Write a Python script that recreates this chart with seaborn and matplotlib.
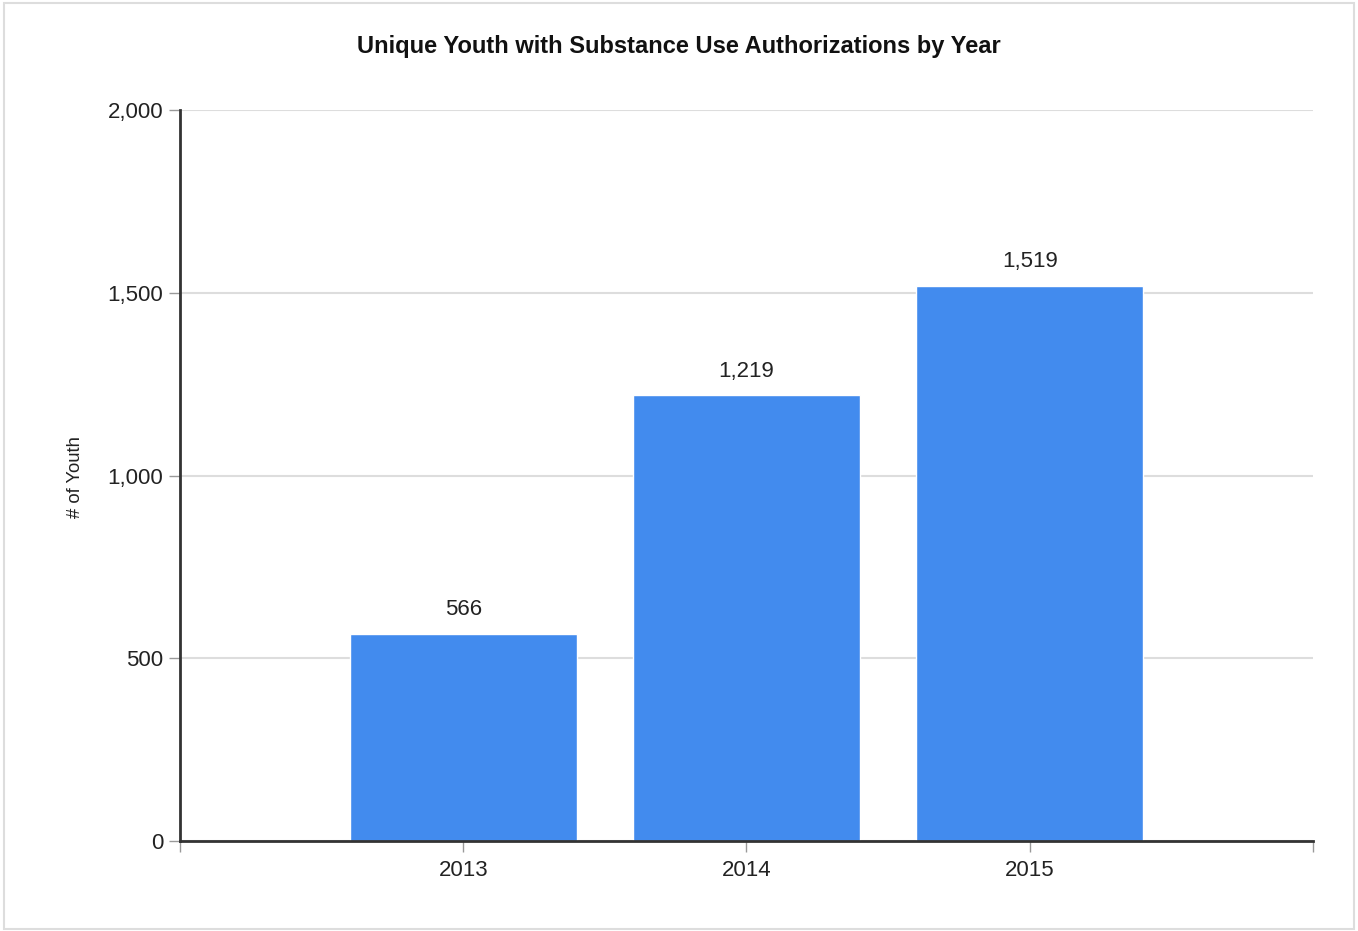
import matplotlib
matplotlib.use("Agg")
import matplotlib.pyplot as plt
import matplotlib.ticker as mticker
import pandas as pd
import seaborn as sns
from matplotlib.patches import Rectangle

years = ["2013", "2014", "2015"]
youth_counts = [566, 1219, 1519]
y_ticks = [0, 500, 1000, 1500, 2000]

sns.set_theme(style="white")
plt.rcParams["font.family"] = ["Liberation Sans", "DejaVu Sans"]

df = pd.DataFrame({"year": years, "count": youth_counts})

fig = plt.figure(figsize=(13.58, 9.31), dpi=100)
ax = fig.add_axes([0.1325, 0.0967, 0.8344, 0.7851])

sns.barplot(data=df, x="year", y="count", color="#428bee", saturation=1,
            width=0.8, ax=ax, zorder=3)

# value labels
for patch, val in zip(ax.patches, youth_counts):
    ax.annotate(f"{val:,}", (patch.get_x() + patch.get_width() / 2, val),
                xytext=(0, 10), textcoords="offset points",
                ha="center", va="bottom", fontsize=16, color="#222222")

ax.set_xlim(-1, 3)
ax.set_ylim(0, 2000)
ax.set_xticks([-1, 0, 1, 2, 3])
ax.set_xticklabels([""] + years + [""])
ax.set_yticks(y_ticks)
ax.yaxis.set_major_formatter(mticker.FuncFormatter(lambda v, p: f"{int(v):,}"))
ax.tick_params(axis="both", labelsize=16, colors="#999999", length=8, width=1,
               direction="out", labelcolor="#222222", bottom=True, left=True)
ax.tick_params(axis="x", pad=6)
ax.tick_params(axis="y", pad=4)

ax.grid(axis="y", color="#dddddd", linewidth=1.5, zorder=0)
ax.set_axisbelow(True)
for side in ["top", "right"]:
    ax.spines[side].set_visible(False)
for side in ["left", "bottom"]:
    ax.spines[side].set_color("#333333")
    ax.spines[side].set_linewidth(2)
    ax.spines[side].set_zorder(4)

ax.set_xlabel("")
ax.set_ylabel("")
fig.text(75 / 1358, 0.4875, "# of Youth", rotation=90, fontsize=13.3,
         color="#222222", ha="center", va="center")
fig.suptitle("Unique Youth with Substance Use Authorizations by Year",
             x=0.5, y=1 - 47 / 931, va="center",
             fontsize=17, fontweight="bold", color="#111111")

# light frame round the chart
fig.patches.append(Rectangle((0.003, 0.002), 0.994, 0.995, transform=fig.transFigure,
                             fill=False, edgecolor="#dddddd", linewidth=1.5))

fig.savefig("out.png", dpi=100)
